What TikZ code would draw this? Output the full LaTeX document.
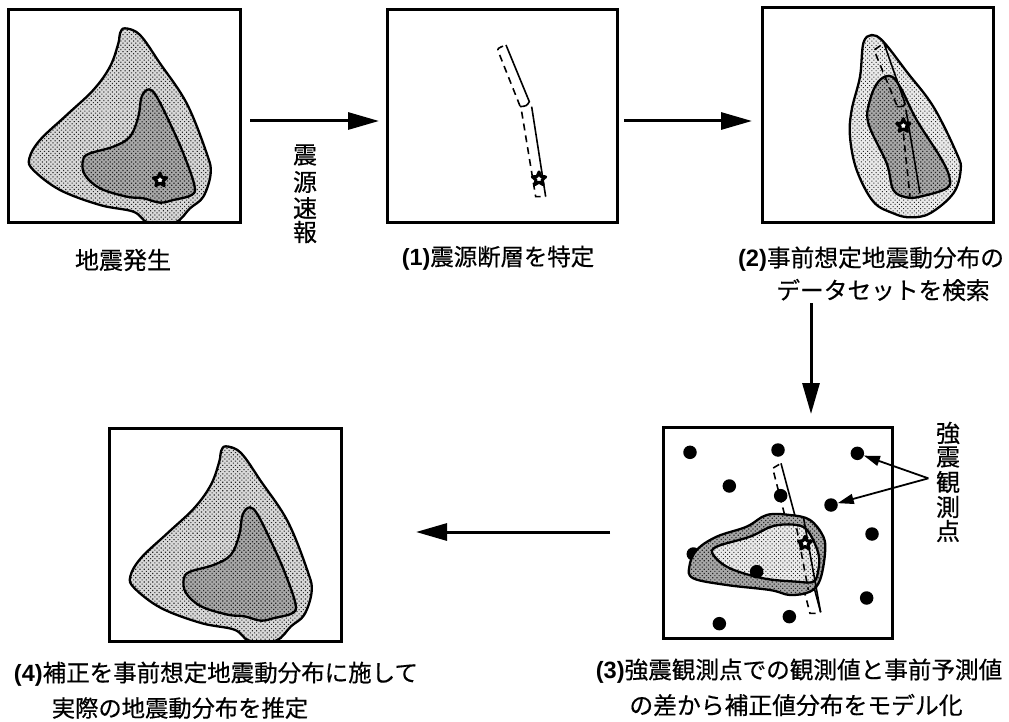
\documentclass[tikz,border=0pt]{standalone}
\usepackage{fontspec}
\setmainfont{Noto Sans CJK JP}[RawFeature={embolden=0.5}]
\newfontfamily\latinbold{Liberation Sans Bold}
\usetikzlibrary{patterns.meta,shapes.geometric,arrows.meta}
\newcommand{\lp}[1]{{\latinbold #1}}
\newcommand{\quakeOuter}{(375,85) (420,105) (480,190) (560,310) (620,460) (632,520) (610,590) (570,625) (525,668) (445,668) (400,635) (300,615) (180,570) (100,510) (88,475) (120,420) (200,345) (280,270) (330,200) (355,130) (360,100)}
\newcommand{\quakeInner}{(447,268) (470,290) (510,370) (550,460) (583,555) (575,585) (520,600) (480,608) (430,595) (380,590) (300,565) (255,525) (248,485) (265,462) (340,440) (390,410) (415,350) (425,290)}
\tikzset{
  x=1pt,y=-1pt,
  panel/.style={draw=black,line width=3pt,fill=none},
  light/.style={line width=2.3pt,draw=black,preaction={fill=black!15},pattern={Dots[distance=3pt,radius=.78pt,angle=45]},pattern color=black!85},
  dark/.style={line width=2.3pt,draw=black,preaction={fill=black!34},pattern={Dots[distance=3pt,radius=.85pt,angle=45]},pattern color=black!85},
  pale/.style={line width=2.3pt,draw=black,preaction={fill=black!8},pattern={Dots[distance=3pt,radius=.7pt,angle=45]},pattern color=black!85},
  faultline/.style={line width=1.6pt,draw=black},
  faultdash/.style={line width=1.6pt,draw=black,dash pattern=on 7pt off 5pt},
  quakestar/.style={star,star points=5,star point ratio=2.2,draw=black,fill=white,line width=3pt,line join=round,minimum size=14pt,inner sep=0pt},
  flow/.style={line width=3pt,-{Triangle[length=31pt,width=17pt]}},
  pointer/.style={line width=1.8pt,-{Triangle[length=16pt,width=10pt]}},
  caption/.style={inner sep=0pt,align=center},
  vlabel/.style={font=\fontsize{24}{26}\selectfont,inner sep=0pt},
  station/.style={circle,fill=black,minimum size=13.5pt,inner sep=0pt},
}
\newcommand{\fs}[1]{\fontsize{#1}{#1}\selectfont}
\begin{document}
\begin{tikzpicture}
\useasboundingbox (0,0) rectangle (1009,722);
% panel 1
\begin{scope}
\clip (8,10) rectangle (240,223);
\begin{scope}[scale=0.33333]
\path[light] plot[smooth cycle,tension=.6] coordinates {\quakeOuter};
\path[dark] plot[smooth cycle,tension=.6] coordinates {\quakeInner};
\end{scope}
\end{scope}
\node[quakestar] (s1) at (160,180) {};
\draw[panel] (8,10) rectangle (240,223);
% panel 2
\draw[panel] (387,10) rectangle (617,223);
\begin{scope}[shift={(370,0)},scale=0.33333]
\draw[faultline] (408,135) -- (478,305) .. controls (470,318) .. (450,320);
\draw[faultdash] (450,318) -- (385,155) .. controls (382,145) .. (408,135);
\draw[faultline] (485,320) -- (527,590);
\draw[faultdash] (455,335) -- (497,590) -- (527,590);
\node[quakestar] (s2) at (507,537) {};
\end{scope}
% panel 3
\begin{scope}[shift={(740,0)},scale=0.33333]
\path[pale] plot[smooth cycle,tension=.6] coordinates {(395,105) (430,125) (500,215) (580,320) (650,460) (662,510) (640,580) (570,640) (510,652) (460,640) (400,605) (350,510) (330,410) (335,330) (360,230) (370,130)};
\path[dark] plot[smooth cycle,tension=.6] coordinates {(450,228) (480,260) (530,360) (600,470) (628,530) (620,565) (540,590) (500,592) (460,570) (440,490) (385,370) (390,300) (415,245)};
\draw[faultline] (432,130) -- (495,310) .. controls (490,320) .. (470,320);
\draw[faultdash] (470,315) -- (402,150) -- (432,130);
\draw[faultline] (498,330) -- (540,580);
\draw[faultdash] (490,400) -- (510,590);
\node[quakestar] (s3) at (490,377) {};
\end{scope}
\draw[panel] (762,8) rectangle (993,223);
% panel 4
\begin{scope}[shift={(650,400)},scale=0.33333]
\node[station] (d1) at (120,157) {};
\node[station] (d2) at (384,150) {};
\node[station] (d3) at (622,160) {};
\node[station] (d4) at (238,258) {};
\node[station] (d5) at (392,287) {};
\node[station] (d6) at (543,315) {};
\node[station] (d7) at (666,402) {};
\node[station] (d8) at (650,594) {};
\node[station] (d9) at (418,650) {};
\node[station] (d10) at (208,671) {};
\node[station] (d11) at (130,462) {};
\draw[faultline] (393,190) -- (512,637);
\draw[faultdash] (497,640) -- (480,640) -- (368,205) -- (393,190);
\path[dark] plot[smooth cycle,tension=.6] coordinates {(350,345) (420,345) (480,360) (520,410) (525,460) (510,540) (480,575) (420,585) (360,570) (230,555) (130,535) (118,500) (140,450) (200,410) (290,380)};
\path[pale] plot[smooth cycle,tension=.6] coordinates {(370,378) (440,375) (475,395) (505,460) (505,510) (490,545) (440,545) (340,535) (240,505) (190,465) (200,440) (300,410)};
\draw[faultline] (460,350) -- (512,637);
\draw[faultdash] (440,385) -- (475,570);
\node[quakestar] (s4) at (465,430) {};
\node[station] (d12) at (320,515) {};
\coordinate (fork) at (835,235);
\end{scope}
\draw[panel] (663,427) rectangle (892,638);
\draw[pointer] (fork) -- (d3);
\draw[pointer] (fork) -- (d6);
% panel 5
\begin{scope}
\clip (109,428) rectangle (341,641);
\begin{scope}[shift={(101,418)},scale=0.33333]
\path[light] plot[smooth cycle,tension=.6] coordinates {\quakeOuter};
\path[dark] plot[smooth cycle,tension=.6] coordinates {\quakeInner};
\end{scope}
\end{scope}
\draw[panel] (109,428) rectangle (341,641);
% flow arrows
\coordinate (a1s) at (250,121); \coordinate (a1e) at (379,121);
\coordinate (a2s) at (624,121); \coordinate (a2e) at (752,121);
\coordinate (a3s) at (811,303); \coordinate (a3e) at (811,414);
\coordinate (a4s) at (610,532); \coordinate (a4e) at (416,532);
\draw[flow] (a1s) -- (a1e);
\draw[flow] (a2s) -- (a2e);
\draw[flow] (a3s) -- (a3e);
\draw[flow] (a4s) -- (a4e);
% vertical labels
\node[vlabel] (v1) at (305,155) {震};
\node[vlabel] (v2) at (305,182) {源};
\node[vlabel] (v3) at (305,208) {速};
\node[vlabel] (v4) at (305,232) {報};
\node[vlabel] (w1) at (948,433) {強};
\node[vlabel] (w2) at (948,457) {震};
\node[vlabel] (w3) at (948,482) {観};
\node[vlabel] (w4) at (948,507) {測};
\node[vlabel] (w5) at (948,531) {点};
% captions
\node[caption,font=\fs{24}] (c0) at (123,260) {地震発生};
\node[caption,font=\fs{23.4}] (c1) at (498,258) {\lp{(1)}震源断層を特定};
\node[caption,font=\fs{23.7}] (c2) at (871,259) {\lp{(2)}事前想定地震動分布の};
\node[caption,font=\fs{23.7}] (c2b) at (883,290) {データセットを検索};
\node[caption,font=\fs{23.6}] (c3) at (799,671) {\lp{(3)}強震観測点での観測値と事前予測値};
\node[caption,font=\fs{23.8}] (c3b) at (796,705) {の差から補正値分布をモデル化};
\node[caption,font=\fs{23.5}] (c4) at (216,674) {\lp{(4)}補正を事前想定地震動分布に施して};
\node[caption,font=\fs{23.3}] (c4b) at (180,708) {実際の地震動分布を推定};
\end{tikzpicture}
\end{document}
